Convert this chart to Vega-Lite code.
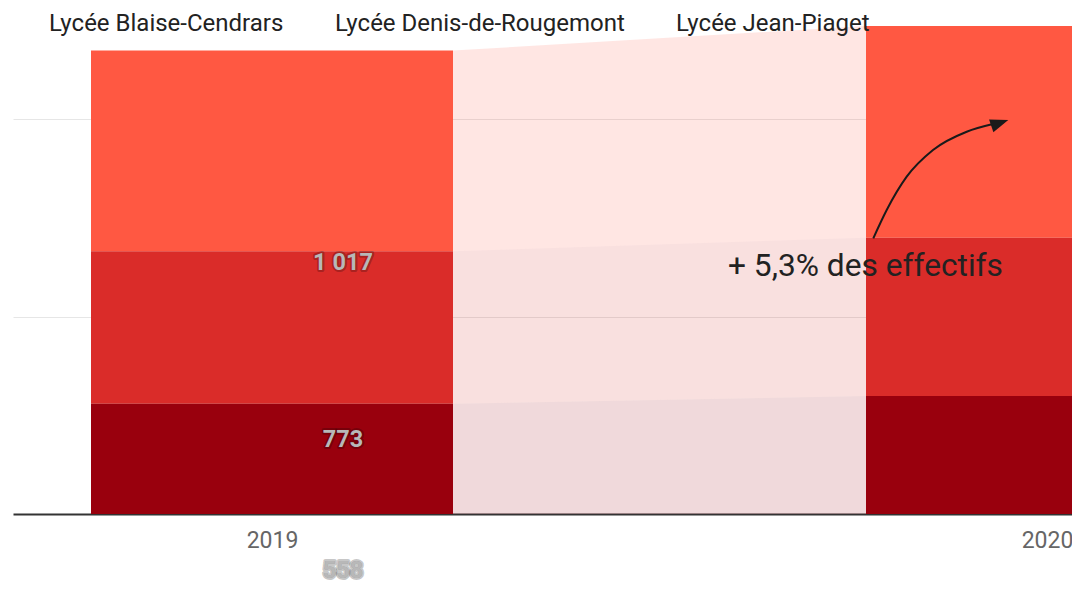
{
  "$schema": "https://vega.github.io/schema/vega-lite/v6.json",
  "width": 1059,
  "height": 514,
  "padding": {"left": 13, "top": 0, "right": 0, "bottom": 0},
  "background": "white",
  "config": {
    "font": "Roboto",
    "view": {"stroke": null},
    "locale": {"number": {"decimal": ",", "thousands": " ", "grouping": [3], "currency": ["", ""]}}
  },
  "datasets": {
    "effectifs": [
      {"year": 2019, "school": "Lycée Blaise-Cendrars", "value": 1017},
      {"year": 2019, "school": "Lycée Denis-de-Rougemont", "value": 773},
      {"year": 2019, "school": "Lycée Jean-Piaget", "value": 558},
      {"year": 2020, "school": "Lycée Blaise-Cendrars", "value": 1072},
      {"year": 2020, "school": "Lycée Denis-de-Rougemont", "value": 802},
      {"year": 2020, "school": "Lycée Jean-Piaget", "value": 598}
    ],
    "arrow": [
      {"x": 2019.77587, "y": 1396.7},
      {"x": 2019.79316, "y": 1540.1},
      {"x": 2019.81897, "y": 1708.8},
      {"x": 2019.85290, "y": 1844.1},
      {"x": 2019.89639, "y": 1936.8},
      {"x": 2019.93032, "y": 1975.8}
    ],
    "arrowhead": [
      {"x": 2019.93903, "y": 1981.4}
    ],
    "note": [
      {"x": 2019.765806, "y": 1254, "label": "+ 5,3% des effectifs"}
    ]
  },
  "layer": [
    {
      "data": {"name": "effectifs"},
      "transform": [
        {"stack": "value", "groupby": ["year"], "sort": [{"field": "school", "order": "descending"}], "as": ["v0", "v1"]},
        {"calculate": "datum.year == 2019 ? datum.year + 0.233548 : datum.year - 0.233548", "as": "xedge"}
      ],
      "mark": {"type": "area", "opacity": 0.15, "clip": true},
      "encoding": {
        "x": {
          "field": "xedge", "type": "quantitative",
          "scale": {"domain": [2018.665806, 2020.032258], "nice": false, "zero": false, "padding": 0},
          "axis": {"values": [2019, 2020], "format": "d", "title": null, "ticks": false, "tickSize": 0, "grid": false,
                   "labelFontSize": 23, "labelColor": "#666666", "labelPadding": 15,
                   "domainColor": "#333333", "domainWidth": 2, "labelFont": "Roboto"}
        },
        "y": {
          "field": "v0", "type": "quantitative",
          "scale": {"domain": [0, 2604], "nice": false, "padding": 0},
          "axis": {"values": [1000, 2000], "title": null, "labels": false, "ticks": false, "domain": false,
                   "grid": true, "gridColor": "#e6e6e6", "gridWidth": 1}
        },
        "y2": {"field": "v1"},
        "color": {
          "field": "school", "type": "nominal",
          "scale": {"domain": ["Lycée Blaise-Cendrars", "Lycée Denis-de-Rougemont", "Lycée Jean-Piaget"],
                    "range": ["#FF5842", "#DA2C29", "#99000D"]},
          "legend": {
            "orient": "none", "legendX": 12, "legendY": 12, "direction": "horizontal",
            "title": null, "symbolSize": 0, "symbolOpacity": 0, "symbolStrokeWidth": 0,
            "labelFontSize": 24, "labelFont": "Roboto", "labelColor": "#222222",
            "labelOffset": 0, "columnPadding": 27, "labelLimit": 500, "padding": 0
          }
        }
      }
    },
    {
      "data": {"name": "effectifs"},
      "transform": [
        {"stack": "value", "groupby": ["year"], "sort": [{"field": "school", "order": "descending"}], "as": ["v0", "v1"]}
      ],
      "mark": {"type": "bar", "size": 362, "clip": true},
      "encoding": {
        "x": {"field": "year", "type": "quantitative"},
        "y": {"field": "v0", "type": "quantitative"},
        "y2": {"field": "v1"},
        "color": {"field": "school", "type": "nominal"}
      }
    },
    {
      "data": {"name": "effectifs"},
      "transform": [
        {"stack": "value", "groupby": ["year"], "sort": [{"field": "school", "order": "descending"}], "as": ["v0", "v1"]},
        {"filter": "datum.year == 2019"},
        {"calculate": "(datum.v0 + datum.v1) / 2", "as": "vmid"}
      ],
      "mark": {"type": "text", "dx": 71, "dy": 112, "fontSize": 23.5, "fontWeight": "bold", "font": "Roboto",
               "fill": "#000000", "fillOpacity": 0.25, "stroke": "#000000", "strokeOpacity": 0.22, "strokeWidth": 4,
               "strokeJoin": "round", "align": "center", "baseline": "middle"},
      "encoding": {
        "x": {"field": "year", "type": "quantitative"},
        "y": {"field": "vmid", "type": "quantitative"},
        "text": {"field": "value", "type": "quantitative", "format": ","}
      }
    },
    {
      "data": {"name": "effectifs"},
      "transform": [
        {"stack": "value", "groupby": ["year"], "sort": [{"field": "school", "order": "descending"}], "as": ["v0", "v1"]},
        {"filter": "datum.year == 2019"},
        {"calculate": "(datum.v0 + datum.v1) / 2", "as": "vmid"}
      ],
      "mark": {"type": "text", "dx": 71, "dy": 112, "fontSize": 23.5, "fontWeight": "bold", "font": "Roboto",
               "fill": "#b8b8b8", "align": "center", "baseline": "middle"},
      "encoding": {
        "x": {"field": "year", "type": "quantitative"},
        "y": {"field": "vmid", "type": "quantitative"},
        "text": {"field": "value", "type": "quantitative", "format": ","}
      }
    },
    {
      "data": {"name": "arrow"},
      "mark": {"type": "line", "interpolate": "monotone", "color": "#1a1a1a", "strokeWidth": 2},
      "encoding": {
        "x": {"field": "x", "type": "quantitative"},
        "y": {"field": "y", "type": "quantitative"}
      }
    },
    {
      "data": {"name": "arrowhead"},
      "mark": {"type": "point", "shape": "M1,0L-1,-0.75L-1,0.75Z", "size": 324, "angle": 341.3,
               "filled": true, "color": "#1a1a1a", "opacity": 1},
      "encoding": {
        "x": {"field": "x", "type": "quantitative"},
        "y": {"field": "y", "type": "quantitative"}
      }
    },
    {
      "data": {"name": "note"},
      "mark": {"type": "text", "fontSize": 31.7, "font": "Roboto", "color": "#222222", "align": "center", "baseline": "middle"},
      "encoding": {
        "x": {"field": "x", "type": "quantitative"},
        "y": {"field": "y", "type": "quantitative"},
        "text": {"field": "label", "type": "nominal"}
      }
    }
  ]
}
